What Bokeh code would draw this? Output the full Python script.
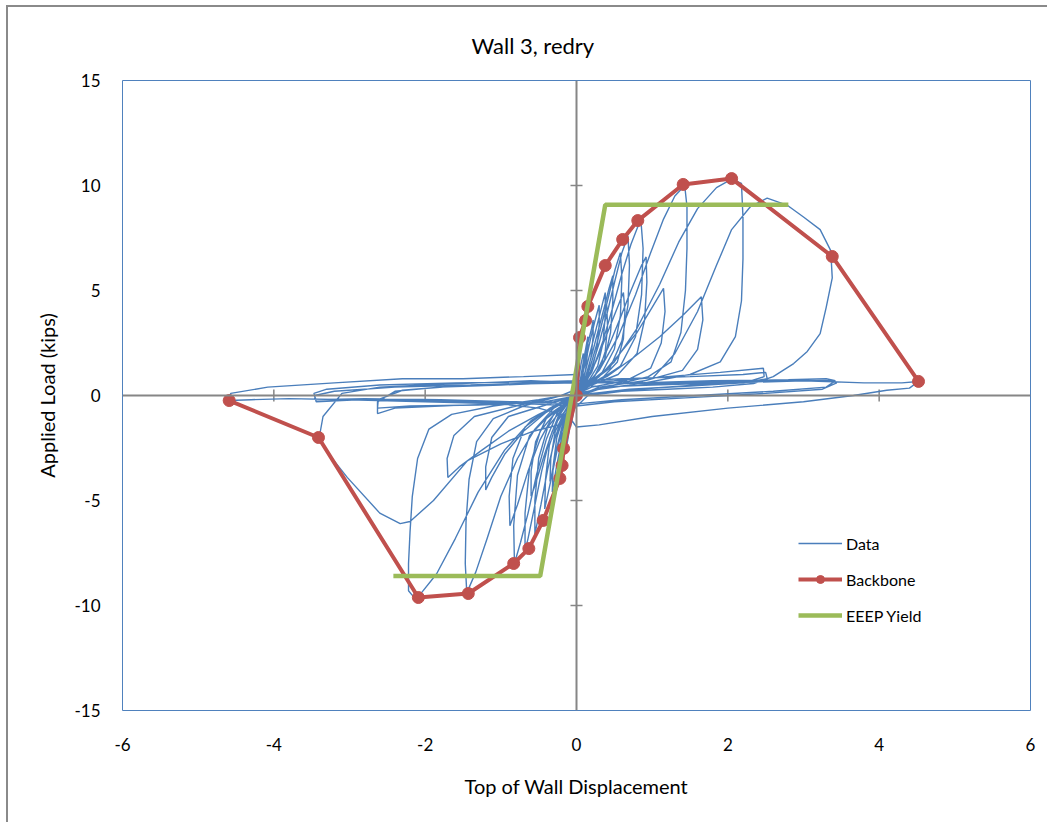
import math
from bokeh.plotting import figure
from bokeh.models import Span
from bokeh.embed import file_html
from bokeh.resources import INLINE

TITLE = "Wall 3, redry"
X_LABEL = "Top of Wall Displacement"
Y_LABEL = "Applied Load (kips)"
X_TICKS = [-6, -4, -2, 0, 2, 4, 6]
Y_TICKS = [-15, -10, -5, 0, 5, 10, 15]

# Backbone points
BB_X = [-4.59, -3.41, -2.09, -1.43, -0.83, -0.63, -0.44, -0.22, -0.19, -0.17, 0.0, 0.04, 0.12, 0.15, 0.38, 0.61, 0.81, 1.41, 2.05, 3.38, 4.52]
BB_Y = [-0.24, -2.0, -9.62, -9.43, -8.0, -7.29, -5.95, -3.95, -3.33, -2.52, 0.0, 2.76, 3.57, 4.24, 6.19, 7.43, 8.33, 10.05, 10.33, 6.62, 0.67]

# EEEP yield
EE_X = [-2.42, -0.48, 0.38, 2.80]
EE_Y = [-8.60, -8.60, 9.08, 9.08]

# Hysteresis data, cycle by cycle (displacement, load)
C01 = [(0.00, 0.00), (0.03, 0.8), (0.06, 1.5), (0.09, 2.0), (0.10, 1.6), (0.08, 0.8), (0.04, 0.3), (0.00, 0.0), (-0.03, -0.6), (-0.06, -1.2), (-0.08, -1.5), (-0.07, -1.0), (-0.04, -0.4), (0.00, 0.1)]
C02 = [(0.04, 0.5), (0.08, 1.4), (0.12, 2.2), (0.15, 2.8), (0.15, 2.2), (0.12, 1.2), (0.06, 0.5), (0.00, 0.1), (-0.04, -0.5), (-0.08, -1.3), (-0.11, -2.0), (-0.13, -2.4), (-0.12, -1.6), (-0.09, -0.9), (-0.04, -0.3), (0.00, 0.1)]
C03 = [(0.05, 0.6), (0.10, 1.5), (0.15, 2.5), (0.20, 3.2), (0.22, 3.6), (0.22, 2.8), (0.19, 1.8), (0.13, 0.9), (0.05, 0.4), (-0.03, -0.2), (-0.08, -0.9), (-0.13, -1.9), (-0.17, -2.8), (-0.19, -3.3), (-0.18, -2.4), (-0.14, -1.4), (-0.08, -0.6), (0.00, 0.1)]
C04 = [(0.06, 0.7), (0.12, 1.6), (0.18, 2.6), (0.24, 3.5), (0.30, 4.3), (0.30, 3.4), (0.27, 2.2), (0.20, 1.2), (0.10, 0.6), (0.00, 0.2), (-0.06, -0.4), (-0.11, -1.2), (-0.16, -2.2), (-0.21, -3.2), (-0.24, -3.9), (-0.23, -2.9), (-0.19, -1.7), (-0.12, -0.8), (-0.03, -0.2), (0.05, 0.3)]
C05 = [(0.10, 0.9), (0.17, 1.9), (0.24, 2.9), (0.31, 3.9), (0.38, 4.9), (0.38, 3.8), (0.35, 2.5), (0.28, 1.4), (0.16, 0.7), (0.04, 0.3), (-0.06, -0.3), (-0.13, -1.1), (-0.20, -2.2), (-0.27, -3.5), (-0.32, -4.6), (-0.31, -3.4), (-0.26, -2.0), (-0.17, -1.0), (-0.06, -0.4), (0.05, 0.2)]
C06 = [(0.12, 0.8), (0.20, 1.6), (0.28, 2.6), (0.34, 3.5), (0.40, 4.3), (0.41, 3.3), (0.38, 2.1), (0.30, 1.2), (0.15, 0.6), (0.00, 0.2), (-0.10, -0.5), (-0.18, -1.3), (-0.26, -2.5), (-0.33, -3.8), (-0.35, -4.1), (-0.34, -3.0), (-0.28, -1.7), (-0.16, -0.8), (-0.03, -0.2), (0.06, 0.3)]
C07 = [(0.12, 0.9), (0.20, 1.9), (0.28, 3.0), (0.36, 4.1), (0.43, 5.1), (0.48, 5.7), (0.48, 4.5), (0.45, 3.0), (0.37, 1.7), (0.22, 0.8), (0.05, 0.3), (-0.08, -0.4), (-0.17, -1.3), (-0.25, -2.5), (-0.33, -3.9), (-0.39, -4.9), (-0.42, -5.4), (-0.41, -4.0), (-0.36, -2.4), (-0.25, -1.2), (-0.10, -0.5), (0.04, 0.1)]
C08 = [(0.15, 1.0), (0.25, 2.2), (0.34, 3.5), (0.43, 4.8), (0.51, 6.0), (0.58, 6.8), (0.60, 5.6), (0.58, 3.8), (0.50, 2.2), (0.34, 1.1), (0.12, 0.5), (-0.05, -0.1), (-0.18, -0.9), (-0.28, -2.0), (-0.38, -3.5), (-0.47, -5.2), (-0.55, -6.6), (-0.55, -5.0), (-0.50, -3.0), (-0.38, -1.5), (-0.18, -0.6), (0.02, 0.1)]
C09 = [(0.15, 0.8), (0.28, 1.8), (0.40, 2.9), (0.52, 4.0), (0.62, 4.9), (0.64, 4.0), (0.62, 2.7), (0.54, 1.6), (0.36, 0.9), (0.12, 0.4), (-0.06, -0.1), (-0.20, -0.8), (-0.32, -1.7), (-0.44, -3.0), (-0.55, -4.3), (-0.60, -4.8), (-0.60, -3.6), (-0.54, -2.2), (-0.40, -1.1), (-0.18, -0.5), (0.02, 0.1)]
C10 = [(0.18, 1.1), (0.30, 2.5), (0.41, 4.0), (0.51, 5.5), (0.60, 6.8), (0.68, 7.6), (0.70, 6.2), (0.68, 4.3), (0.60, 2.6), (0.44, 1.3), (0.18, 0.6), (-0.05, 0.0), (-0.22, -0.8), (-0.35, -2.0), (-0.46, -3.6), (-0.56, -5.4), (-0.64, -6.8), (-0.68, -7.4), (-0.68, -5.6), (-0.62, -3.4), (-0.48, -1.7), (-0.25, -0.7), (0.00, 0.0)]
C11 = [(0.20, 1.1), (0.35, 2.6), (0.48, 4.2), (0.60, 5.8), (0.72, 7.2), (0.85, 8.4), (0.88, 7.0), (0.86, 4.8), (0.78, 2.8), (0.58, 1.4), (0.25, 0.6), (-0.05, 0.0), (-0.25, -0.8), (-0.40, -2.1), (-0.53, -3.8), (-0.64, -5.6), (-0.74, -7.0), (-0.82, -8.0), (-0.83, -6.2), (-0.78, -3.8), (-0.62, -1.9), (-0.32, -0.8), (0.00, 0.0)]
C12 = [(0.25, 1.0), (0.42, 2.3), (0.58, 3.7), (0.72, 5.0), (0.86, 6.2), (0.92, 6.6), (0.93, 5.4), (0.90, 3.6), (0.80, 2.0), (0.55, 1.0), (0.20, 0.5), (-0.08, -0.1), (-0.30, -0.9), (-0.48, -2.1), (-0.64, -3.6), (-0.78, -5.2), (-0.88, -6.2), (-0.89, -4.8), (-0.84, -3.0), (-0.68, -1.5), (-0.35, -0.6), (0.00, 0.1)]
C13 = [(0.30, 0.9), (0.55, 1.9), (0.80, 3.0), (1.00, 4.2), (1.15, 5.1), (1.17, 4.0), (1.12, 2.5), (0.98, 1.3), (0.65, 0.7), (0.20, 0.4), (-0.10, -0.1), (-0.40, -0.8), (-0.70, -1.7), (-0.95, -2.8), (-1.12, -3.9), (-1.20, -4.5), (-1.20, -3.4), (-1.12, -2.0), (-0.90, -1.0), (-0.45, -0.5), (0.00, 0.0)]
C14 = [(0.30, 1.2), (0.55, 2.8), (0.78, 4.8), (0.98, 6.8), (1.15, 8.4), (1.30, 9.5), (1.43, 10.0), (1.46, 9.0), (1.46, 7.0), (1.44, 5.0), (1.38, 3.0), (1.25, 1.6), (0.95, 0.9), (0.50, 0.5), (0.05, 0.1), (-0.30, -0.6), (-0.55, -1.6), (-0.78, -3.0), (-1.00, -4.8), (-1.18, -6.8), (-1.33, -8.4), (-1.45, -9.4), (-1.47, -8.0), (-1.46, -6.0), (-1.42, -4.0), (-1.32, -2.2), (-1.10, -1.1), (-0.70, -0.5), (-0.20, 0.0)]
C15 = [(0.40, 0.9), (0.75, 1.8), (1.10, 2.8), (1.40, 3.8), (1.65, 4.7), (1.67, 3.6), (1.60, 2.2), (1.40, 1.2), (0.90, 0.7), (0.30, 0.4), (-0.10, -0.2), (-0.50, -0.9), (-0.90, -1.7), (-1.25, -2.6), (-1.55, -3.4), (-1.70, -3.9), (-1.71, -3.0), (-1.62, -1.9), (-1.35, -1.0), (-0.80, -0.5), (-0.20, 0.0)]
C16 = [(0.20, 0.6), (0.50, 1.6), (0.80, 3.2), (1.10, 5.3), (1.35, 7.3), (1.60, 8.9), (1.85, 9.9), (2.05, 10.3), (2.18, 10.1), (2.20, 8.5), (2.20, 6.5), (2.18, 4.5), (2.10, 2.8), (1.90, 1.6), (1.50, 1.0), (0.90, 0.6), (0.30, 0.3), (-0.20, -0.3), (-0.60, -1.2), (-0.95, -2.6), (-1.30, -4.6), (-1.60, -6.8), (-1.85, -8.5), (-2.05, -9.4), (-2.15, -9.6), (-2.22, -9.3), (-2.22, -8.0), (-2.20, -6.5), (-2.17, -4.8), (-2.10, -3.0), (-1.95, -1.6), (-1.65, -0.9), (-1.10, -0.5), (-0.50, -0.2), (0.00, 0.1)]
C17 = [(0.30, 0.3), (0.70, 0.5), (1.00, 0.8), (1.30, 2.0), (1.60, 4.0), (1.85, 6.2), (2.05, 7.9), (2.30, 9.0), (2.52, 9.4), (2.79, 9.05), (3.00, 8.5), (3.22, 7.9), (3.36, 6.9), (3.38, 5.6), (3.30, 4.2), (3.22, 2.95), (3.05, 2.1), (2.87, 1.52), (2.60, 0.9), (2.34, 0.57), (1.80, 0.4), (1.20, 0.3), (0.60, 0.2), (0.15, 0.0), (-0.05, -0.7), (-0.12, -1.3), (-0.57, -1.7), (-1.00, -2.3), (-1.44, -3.1), (-1.89, -5.0), (-2.20, -6.0), (-2.33, -6.1), (-2.60, -5.6), (-3.03, -3.9), (-3.25, -2.9), (-3.40, -2.0), (-3.35, -1.0), (-3.10, 0.1), (-2.60, 0.4), (-2.00, 0.5), (-1.30, 0.6), (-0.60, 0.7), (0.00, 0.6)]
C18 = [(0.50, 0.7), (1.20, 0.9), (1.90, 1.1), (2.47, 1.3), (2.48, 0.9), (2.30, 0.7), (1.60, 0.5), (0.80, 0.3), (0.20, 0.1), (-0.30, -0.3), (-1.00, -0.4), (-1.80, -0.5), (-2.40, -0.6), (-2.63, -0.86), (-2.63, -0.3), (-2.40, 0.2), (-1.80, 0.4), (-1.00, 0.5), (-0.30, 0.6), (0.00, 0.7)]
C19 = [(0.60, 0.8), (1.50, 0.9), (2.20, 1.0), (2.50, 1.1), (2.52, 0.8), (2.20, 0.6), (1.50, 0.45), (0.70, 0.3), (0.10, 0.05), (-0.50, -0.35), (-1.30, -0.45), (-2.20, -0.5), (-2.63, -0.6), (-2.62, -0.2), (-2.30, 0.25), (-1.60, 0.45), (-0.80, 0.55), (0.00, 0.6)]
C20 = [(0.80, 0.6), (1.80, 0.7), (2.80, 0.75), (3.30, 0.8), (3.42, 0.7), (3.30, 0.4), (2.60, 0.2), (1.60, 0.0), (0.60, -0.2), (0.00, -0.4), (-0.80, -0.3), (-1.80, -0.2), (-2.80, -0.15), (-3.45, -0.2), (-3.47, 0.1), (-3.30, 0.3), (-2.60, 0.5), (-1.60, 0.6), (-0.60, 0.65), (0.00, 0.7)]
C21 = [(0.90, 0.55), (1.90, 0.65), (2.90, 0.7), (3.35, 0.72), (3.44, 0.6), (3.25, 0.3), (2.50, 0.1), (1.50, -0.1), (0.50, -0.3), (0.00, -0.5), (-0.90, -0.35), (-1.90, -0.25), (-2.90, -0.2), (-3.44, -0.3), (-3.46, 0.0), (-3.20, 0.2), (-2.40, 0.4), (-1.40, 0.5), (-0.50, 0.6), (0.00, 0.6)]
C22 = [(0.30, 0.4), (1.00, 0.5), (2.00, 0.6), (3.00, 0.7), (3.80, 0.6), (4.30, 0.6), (4.52, 0.67), (4.40, 0.35), (4.10, 0.25), (3.66, 0.0), (3.00, -0.3), (2.00, -0.6), (1.00, -1.0), (0.30, -1.4), (0.00, -1.5), (-0.10, -1.0), (-0.50, -0.6), (-1.00, -0.4), (-2.00, -0.3), (-3.00, -0.2), (-3.80, -0.15), (-4.30, -0.2), (-4.59, -0.24), (-4.57, 0.1), (-4.08, 0.4), (-3.20, 0.6), (-2.30, 0.8), (-1.50, 0.8), (-0.70, 0.9), (0.00, 1.0)]

CYCLES = [C01, C02, C03, C04, C05, C06, C07, C08, C09, C10, C11, C12, C13, C14, C15, C16, C17, C18, C19, C20, C21, C22]
DATA_X = [pt[0] for c in CYCLES for pt in c]
DATA_Y = [pt[1] for c in CYCLES for pt in c]

FONT = "Lato"
GRAY = "#868686"

p = figure(frame_width=908, frame_height=630, x_range=(-6, 6), y_range=(-15, 15),
           output_backend="svg", toolbar_location=None,
           min_border_left=114, min_border_right=17, min_border_top=73, min_border_bottom=112,
           background_fill_color="white", border_fill_color="white")
p.styles = {"margin-left": "6px", "margin-top": "5px",
            "border-left": "2px solid #8a8a8a", "border-top": "2px solid #8a8a8a"}

p.title.text = TITLE
p.title.align = "left"
p.title.offset = 349
p.title.standoff = 44
p.title.text_font = FONT
p.title.text_font_size = "22px"
p.title.text_font_style = "normal"
p.title.text_color = "black"

p.outline_line_color = "#4F81BD"
p.outline_line_width = 1
p.grid.visible = False

for ax in (p.xaxis, p.yaxis):
    ax.axis_line_color = None
    ax.major_tick_line_color = None
    ax.minor_tick_line_color = None
    ax.major_label_text_font = FONT
    ax.major_label_text_font_size = "17px"
    ax.major_label_text_color = "black"
    ax.axis_label_text_font = FONT
    ax.axis_label_text_font_size = "20px"
    ax.axis_label_text_font_style = "normal"
    ax.axis_label_text_color = "black"
p.xaxis.ticker = X_TICKS
p.yaxis.ticker = Y_TICKS
p.xaxis.major_label_overrides = {t: str(t) for t in X_TICKS}
p.yaxis.major_label_overrides = {t: str(t) for t in Y_TICKS}
p.xaxis.axis_label = X_LABEL
p.yaxis.axis_label = Y_LABEL
p.xaxis.major_label_standoff = 21
p.yaxis.major_label_standoff = 16
p.xaxis.axis_label_standoff = 20
p.yaxis.axis_label_standoff = 12

p.add_layout(Span(location=0, dimension="width", line_color=GRAY, line_width=2))
p.add_layout(Span(location=0, dimension="height", line_color=GRAY, line_width=2))

xt = [t for t in X_TICKS if t not in (0, -6, 6)]
yt = [t for t in Y_TICKS if t not in (0, -15, 15)]
p.scatter(x=xt, y=[0] * len(xt), marker="dash", size=12, angle=math.pi / 2,
          line_color=GRAY, line_width=1.5)
p.scatter(x=[0] * len(yt), y=yt, marker="dash", size=12, line_color=GRAY, line_width=1.5)

p.line(DATA_X, DATA_Y, line_color="#4A7EBB", line_width=1.4, legend_label="Data")
p.line(BB_X, BB_Y, line_color="#C0504D", line_width=4, legend_label="Backbone")
p.scatter(BB_X, BB_Y, marker="circle", size=12, fill_color="#C0504D", line_color="#C0504D",
          legend_label="Backbone")
p.line(EE_X, EE_Y, line_color="#9BBB59", line_width=4.5, legend_label="EEEP Yield")

lg = p.legend[0]
lg.location = (676, 85)
lg.padding = 0
lg.margin = 0
lg.spacing = 16
lg.glyph_width = 44
lg.glyph_height = 20
lg.label_height = 20
lg.label_standoff = 4
lg.border_line_color = None
lg.background_fill_alpha = 0
lg.label_text_font = FONT
lg.label_text_font_size = "16px"
lg.label_text_color = "black"

open("out.html", "w").write(file_html(p, INLINE))
